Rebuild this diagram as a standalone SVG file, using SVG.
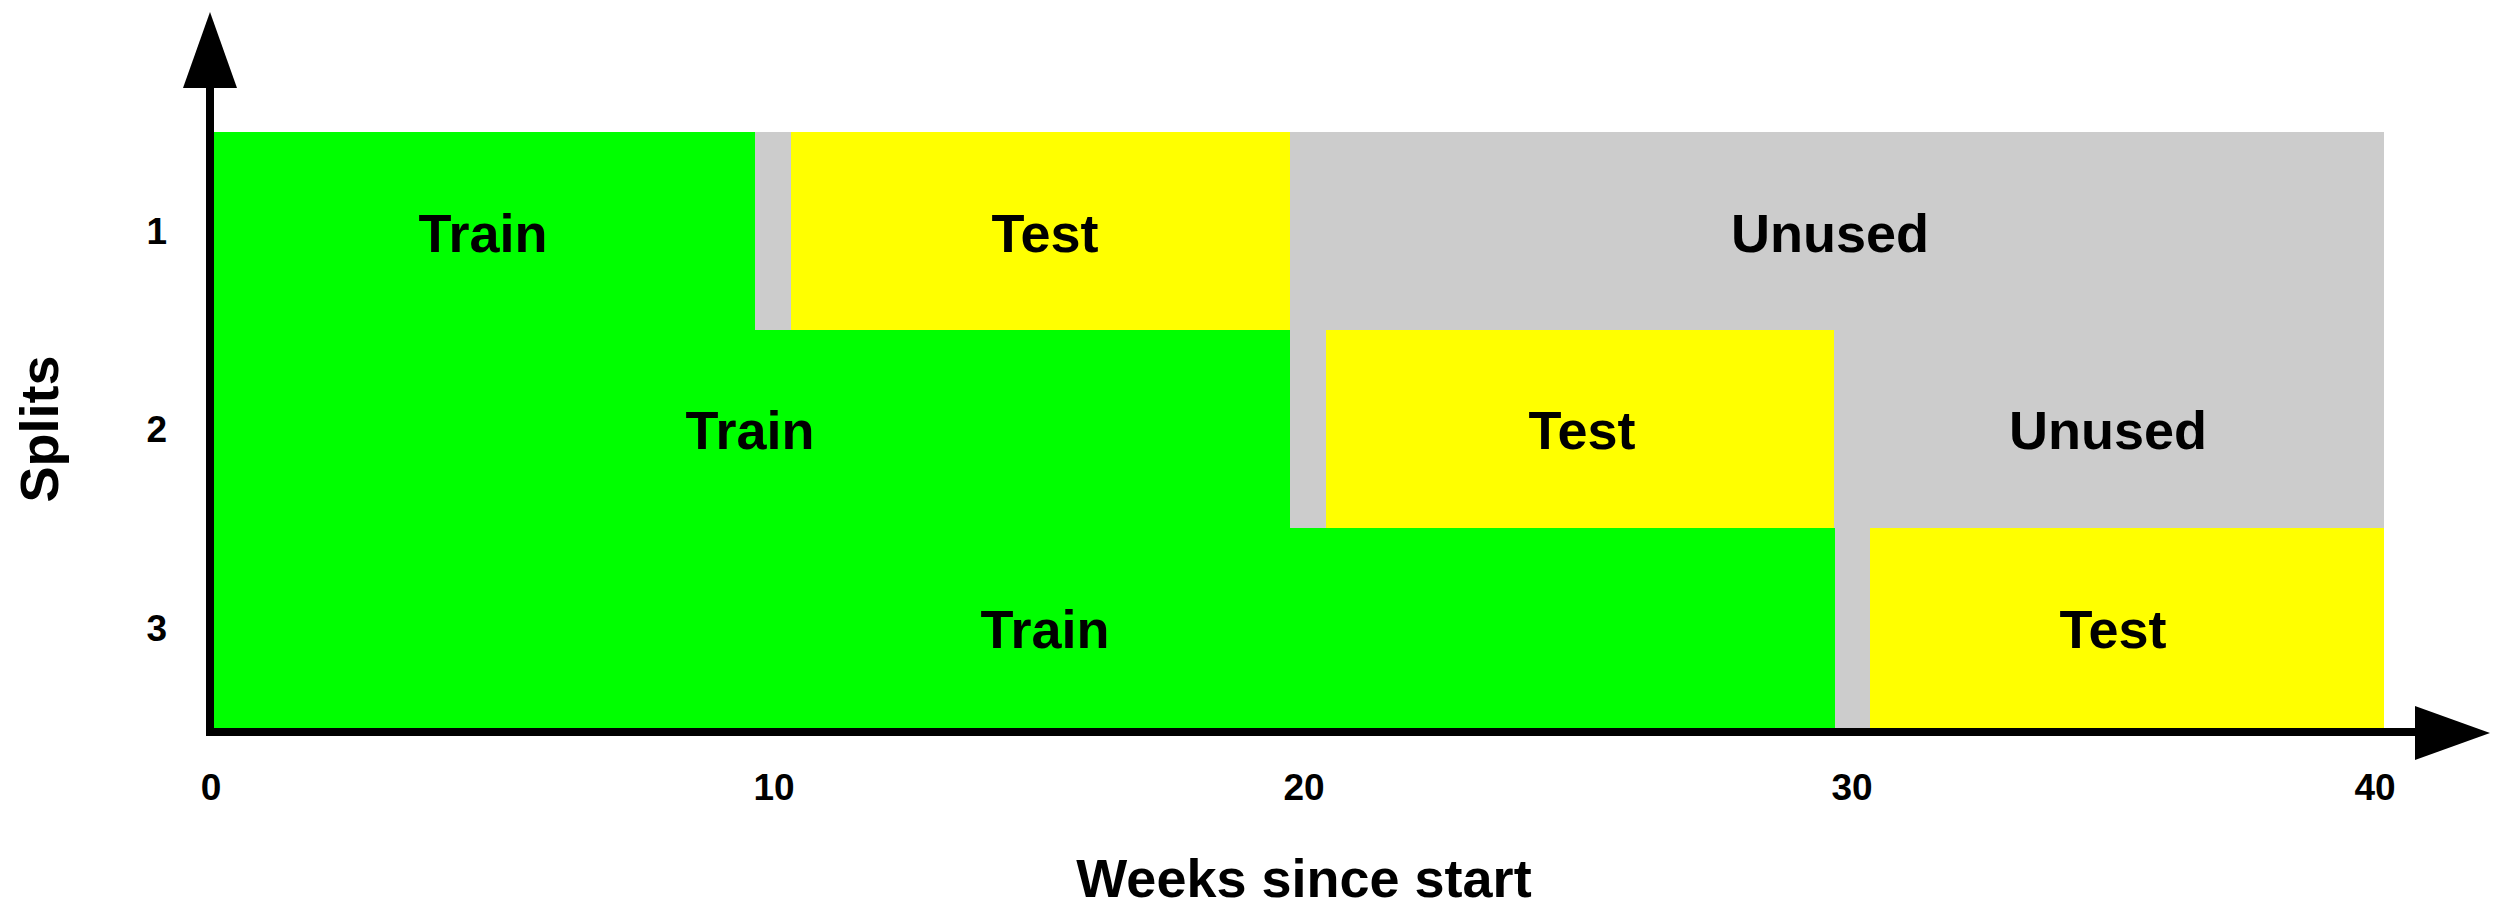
<svg xmlns="http://www.w3.org/2000/svg" width="2503" height="922" viewBox="0 0 2503 922">
<style>
.train{fill:#00ff00}
.test{fill:#ffff00}
.unused{fill:#cccccc}
.lbl{font-family:"Liberation Sans",Arial,sans-serif;font-weight:bold;font-size:54px;fill:#000;text-anchor:middle}
.tick{font-family:"Liberation Sans",Arial,sans-serif;font-weight:bold;font-size:37px;fill:#000;text-anchor:middle}
.axis{stroke:#000;stroke-width:8;fill:none}
</style>
<rect width="2503" height="922" fill="#fff"/>
<g id="split1">
<rect class="train" x="212" y="132" width="543" height="198"/>
<rect class="unused" x="755" y="132" width="36" height="198"/>
<rect class="test" x="791" y="132" width="499" height="198"/>
<rect class="unused" x="1290" y="132" width="1094" height="198"/>
<text class="lbl" x="483" y="252">Train</text>
<text class="lbl" x="1045" y="252">Test</text>
<text class="lbl" x="1830" y="252">Unused</text>
</g>
<g id="split2">
<rect class="train" x="212" y="330" width="1078" height="198"/>
<rect class="unused" x="1290" y="330" width="36" height="198"/>
<rect class="test" x="1326" y="330" width="508" height="198"/>
<rect class="unused" x="1834" y="330" width="550" height="198"/>
<text class="lbl" x="750" y="449">Train</text>
<text class="lbl" x="1582" y="449">Test</text>
<text class="lbl" x="2108" y="449">Unused</text>
</g>
<g id="split3">
<rect class="train" x="212" y="528" width="1623" height="200"/>
<rect class="unused" x="1835" y="528" width="35" height="200"/>
<rect class="test" x="1870" y="528" width="514" height="200"/>
<text class="lbl" x="1045" y="648">Train</text>
<text class="lbl" x="2113" y="648">Test</text>
</g>
<g id="axes">
<line class="axis" x1="210" y1="85" x2="210" y2="736"/>
<polygon points="210,12 183,88 237,88" fill="#000"/>
<line class="axis" x1="206" y1="732" x2="2418" y2="732"/>
<polygon points="2490,733 2415,706 2415,760" fill="#000"/>
</g>
<g id="labels">
<text class="tick" x="211" y="800">0</text>
<text class="tick" x="774" y="800">10</text>
<text class="tick" x="1304" y="800">20</text>
<text class="tick" x="1852" y="800">30</text>
<text class="tick" x="2375" y="800">40</text>
<text class="tick" x="167" y="244" style="text-anchor:end">1</text>
<text class="tick" x="167" y="442" style="text-anchor:end">2</text>
<text class="tick" x="167" y="641" style="text-anchor:end">3</text>
<text class="lbl" x="1304" y="897">Weeks since start</text>
<text class="lbl" transform="translate(58,429) rotate(-90)">Splits</text>
</g>
</svg>
